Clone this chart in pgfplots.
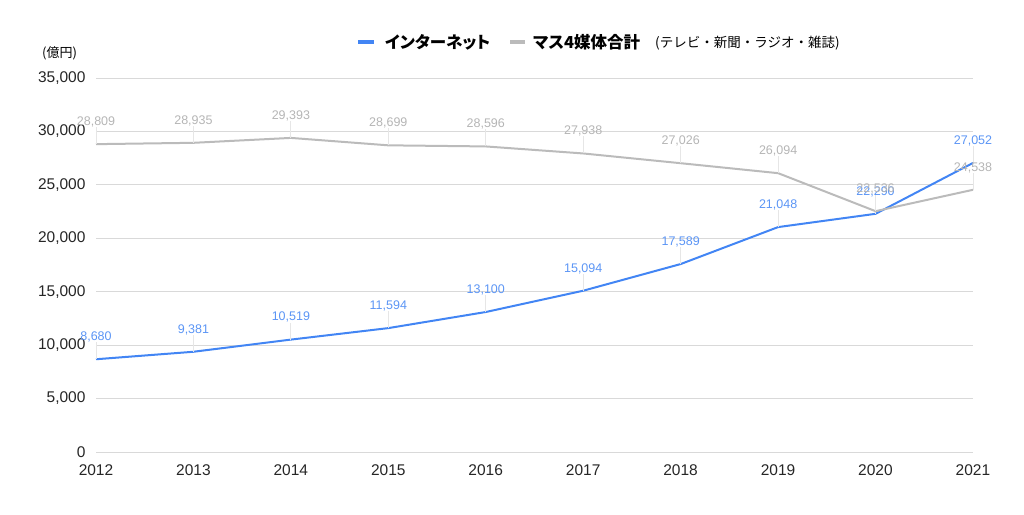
\documentclass[border=0pt]{standalone}
\usepackage{pgfplots}
\pgfplotsset{compat=1.18}
\usepackage{fontspec}
\setmainfont{Liberation Sans}
\newfontfamily\cjk{Noto Sans CJK JP}
\newfontfamily\cjkp[RawFeature=+palt]{Noto Sans CJK JP}

\definecolor{netblue}{HTML}{4285F4}
\definecolor{netlabel}{HTML}{5B95F5}
\definecolor{massgray}{HTML}{BBBBBB}
\definecolor{masslabel}{HTML}{B5B5B5}
\definecolor{gridgray}{HTML}{D9D9D9}
\definecolor{leader}{HTML}{E6E6E6}

\begin{document}
\begin{tikzpicture}[x=1pt,y=1pt]
\path[use as bounding box] (0,0) rectangle (1024,514);

\begin{axis}[
  at={(96pt,62pt)}, anchor=south west,
  scale only axis, width=877pt, height=374pt,
  xmin=2012, xmax=2021, ymin=0, ymax=35000,
  xtick={2012,...,2021}, ytick={0,5000,...,35000},
  scaled ticks=false,
  axis line style={draw=none},
  major tick length=0pt,
  ymajorgrids, major grid style={gridgray, line width=0.8pt},
  extra y ticks={0}, extra y tick labels={},
  extra y tick style={grid style={black!65, line width=1.2pt}},
  /pgf/number format/assume math mode=true,
  /pgf/number format/fixed,
  /pgf/number format/1000 sep={,},
  xticklabel style={/pgf/number format/1000 sep=, font=\fontsize{15.5}{18}\selectfont, text=black!85, yshift=-9pt},
  yticklabel style={font=\fontsize{15.5}{18}\selectfont, text=black!85, xshift=-7pt},
  clip=false,
  error bars/y dir=plus, error bars/y fixed=1600,
  error bars/error mark=none,
  error bars/error bar style={leader, line width=0.8pt},
  nodes near coords,
  every node near coord/.append style={font=\fontsize{12.5}{14}\selectfont, anchor=south, yshift=15pt, inner sep=1pt},
]
\addplot[netblue, line width=2pt, mark=none, nodes near coords style={text=netlabel}]
  coordinates {(2012,8680) (2013,9381) (2014,10519) (2015,11594) (2016,13100)
               (2017,15094) (2018,17589) (2019,21048) (2020,22290) (2021,27052)};
\addplot[massgray, line width=2pt, mark=none, nodes near coords style={text=masslabel}]
  coordinates {(2012,28809) (2013,28935) (2014,29393) (2015,28699) (2016,28596)
               (2017,27938) (2018,27026) (2019,26094) (2020,22536) (2021,24538)};
\end{axis}

% legend
\draw[netblue, line width=4pt] (358,472) -- (374,472);
\node[anchor=west, inner sep=0pt] at (385,472) {\cjkp\bfseries\fontsize{16.5}{19}\selectfont インターネット};
\draw[massgray, line width=4pt] (510,472) -- (525,472);
\node[anchor=west, inner sep=0pt] at (533,472) {\cjkp\bfseries\fontsize{16.5}{19}\selectfont マス4媒体合計};
\node[anchor=west, inner sep=0pt] at (655,471) {\cjk\fontsize{13.5}{16}\selectfont (テレビ・新聞・ラジオ・雑誌)};
% unit
\node[anchor=west, inner sep=0pt] at (42,461) {\cjk\fontsize{13}{15}\selectfont (億円)};
\end{tikzpicture}
\end{document}
